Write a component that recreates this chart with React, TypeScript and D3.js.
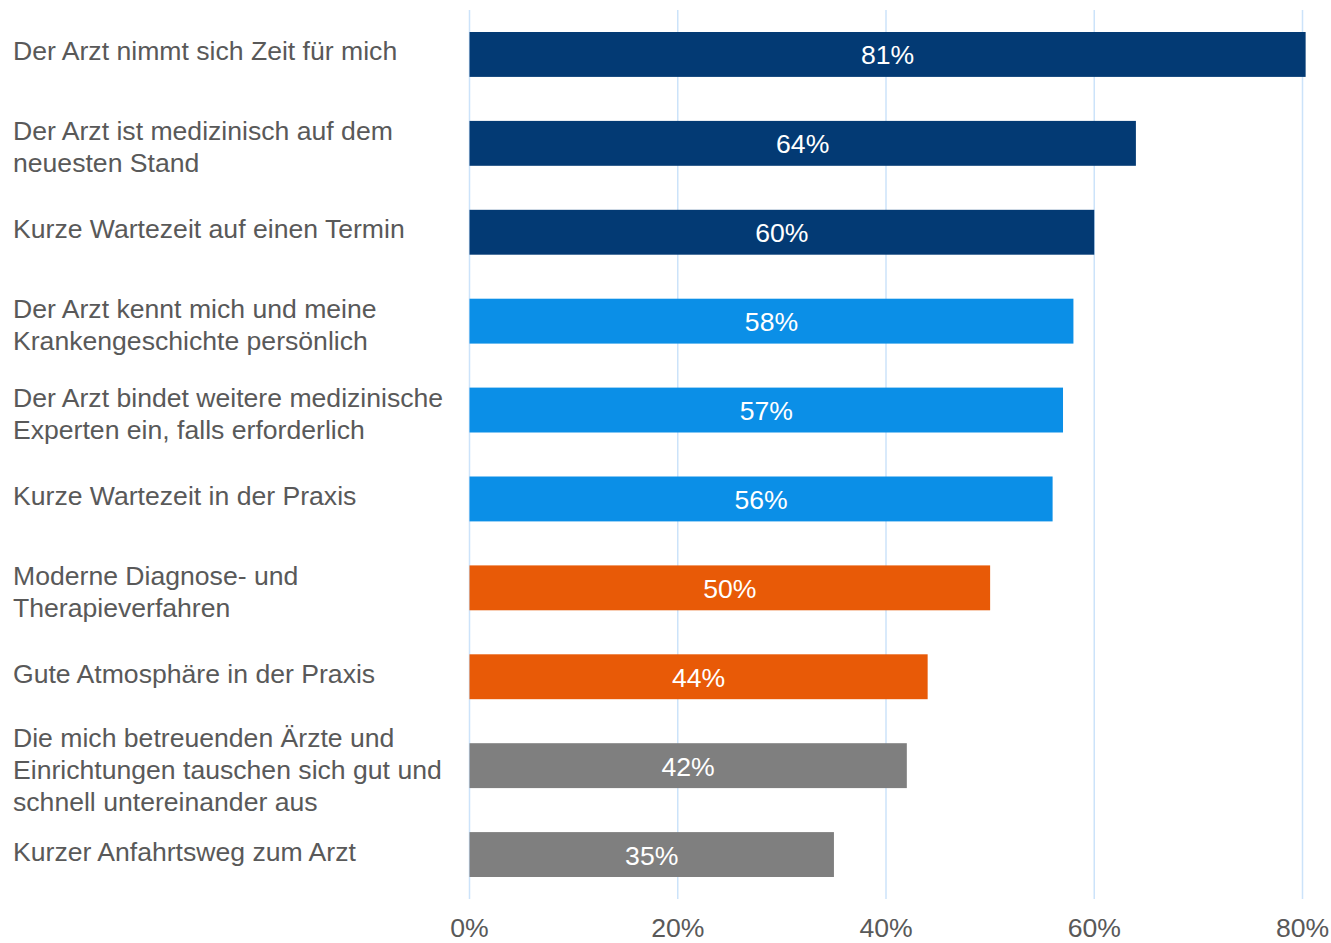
import React from "react";
import * as d3 from "d3";

const categories: string[] = [
  "Der Arzt nimmt sich Zeit für mich",
  "Der Arzt ist medizinisch auf dem\nneuesten Stand",
  "Kurze Wartezeit auf einen Termin",
  "Der Arzt kennt mich und meine\nKrankengeschichte persönlich",
  "Der Arzt bindet weitere medizinische\nExperten ein, falls erforderlich",
  "Kurze Wartezeit in der Praxis",
  "Moderne Diagnose- und\nTherapieverfahren",
  "Gute Atmosphäre in der Praxis",
  "Die mich betreuenden Ärzte und\nEinrichtungen tauschen sich gut und\nschnell untereinander aus",
  "Kurzer Anfahrtsweg zum Arzt",
];
const values: number[] = [80.3, 64, 60, 58, 57, 56, 50, 44, 42, 35];
const valueLabels: string[] = ["81%", "64%", "60%", "58%", "57%", "56%", "50%", "44%", "42%", "35%"];
const groups: number[] = [0, 0, 0, 1, 1, 1, 2, 2, 3, 3];
const groupColors: string[] = ["#033a74", "#0b8fe7", "#e85a07", "#7f7f7f"];
const ticks: number[] = [0, 20, 40, 60, 80];

const W = 1331;
const H = 943;
const left = 469.5;
const right = 1302.5;
const top = 10;
const bottom = 899;

export default function App() {
  const x = d3.scaleLinear().domain([0, 80]).range([left, right]);
  const y = d3
    .scaleBand<number>()
    .domain(d3.range(categories.length))
    .range([top, bottom])
    .paddingInner(0.495)
    .paddingOuter(0.2475);
  const font = "'Liberation Sans', Arial, sans-serif";
  const fs = 26.6;
  return (
    <div>
      <style>{`body{margin:0}`}</style>
      <svg width={W} height={H} style={{ display: "block", fontFamily: font }}>
        {ticks.map((t) => (
          <line key={"g" + t} x1={x(t)} x2={x(t)} y1={top} y2={bottom} stroke="#cce3fa" strokeWidth={1.5} />
        ))}
        {ticks.map((t) => (
          <text key={"t" + t} x={x(t)} y={937} textAnchor="middle" fontSize={fs} fill="#595959">
            {t + "%"}
          </text>
        ))}
        {values.map((v, i) => {
          const y0 = y(i)!;
          const bh = y.bandwidth();
          return (
            <g key={i}>
              <rect x={x(0)} y={y0} width={x(v) - x(0)} height={bh} fill={groupColors[groups[i]]} />
              <text
                x={(x(0) + x(v)) / 2}
                y={y0 + bh / 2 + 10}
                textAnchor="middle"
                fontSize={fs}
                fill="#ffffff"
              >
                {valueLabels[i]}
              </text>
            </g>
          );
        })}
        {categories.map((c, i) => {
          const lines = c.split("\n");
          const cy = y(i)! + y.bandwidth() / 2;
          const lh = 32;
          const startY = cy - ((lines.length - 1) * lh) / 2 + 6 + (lines.length > 1 ? 7 : 0);
          return (
            <text key={"c" + i} x={13} fontSize={fs} fill="#595959">
              {lines.map((l, j) => (
                <tspan key={j} x={13} y={startY + j * lh}>
                  {l}
                </tspan>
              ))}
            </text>
          );
        })}
      </svg>
    </div>
  );
}
